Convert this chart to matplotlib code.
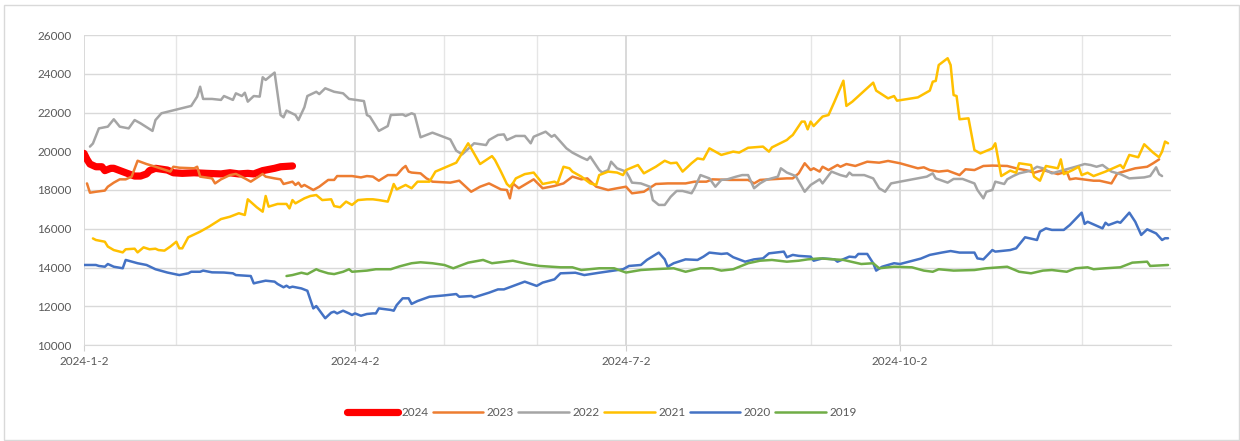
import pandas as pd
import matplotlib
matplotlib.use("Agg")
import matplotlib.pyplot as plt
from matplotlib.patches import Rectangle

# data, one list of dates (2024 calendar) and one of values per year
d2024 = ['01-02', '01-03', '01-04', '01-06', '01-08', '01-09', '01-11', '01-12', '01-16', '01-19',
         '01-21', '01-23', '01-24', '01-26', '01-30', '02-01', '02-04', '02-08', '02-12', '02-17',
         '02-20', '02-23', '02-26', '02-28', '03-02', '03-06', '03-08', '03-12']
v2024 = [19890, 19580, 19340, 19200, 19200, 19000, 19120, 19120, 18890, 18720,
         18720, 18830, 19000, 19120, 19030, 18890, 18860, 18890, 18860, 18830,
         18890, 18830, 18860, 18830, 19000, 19120, 19200, 19240]

d2023 = ['01-03', '01-04', '01-06', '01-09', '01-10', '01-12', '01-14', '01-16', '01-18', '01-20',
         '01-23', '01-26', '01-31', '02-01', '02-03', '02-08', '02-09', '02-10', '02-14', '02-15',
         '02-17', '02-20', '02-22', '02-25', '02-27', '03-02', '03-03', '03-06', '03-08', '03-09',
         '03-12', '03-13', '03-14', '03-15', '03-16', '03-19', '03-21', '03-24', '03-26', '03-27',
         '04-01', '04-04', '04-06', '04-08', '04-10', '04-13', '04-16', '04-18', '04-19', '04-20',
         '04-21', '04-24', '04-26', '04-27', '04-28', '05-04', '05-07', '05-11', '05-14', '05-17',
         '05-21', '05-23', '05-24', '05-25', '05-27', '06-01', '06-04', '06-08', '06-11', '06-14',
         '06-17', '06-19', '06-22', '06-26', '06-29', '07-02', '07-04', '07-08', '07-12', '07-16',
         '07-22', '07-25', '07-29', '07-31', '08-06', '08-12', '08-14', '08-16', '08-25', '08-27',
         '08-29', '08-31', '09-02', '09-03', '09-05', '09-06', '09-08', '09-11', '09-12', '09-14',
         '09-17', '09-21', '09-25', '09-28', '10-02', '10-08', '10-10', '10-12', '10-15', '10-18',
         '10-22', '10-24', '10-27', '10-30', '11-02', '11-07', '11-10', '11-14', '11-16', '11-19',
         '11-24', '11-27', '11-28', '11-30', '12-04', '12-06', '12-08', '12-12', '12-14', '12-18',
         '12-20', '12-24', '12-26', '12-28']
v2023 = [18340, 17860, 17910, 17970, 18170, 18380, 18550, 18550, 18690, 19510,
         19340, 19200, 18950, 19200, 19150, 19120, 19200, 18690, 18600, 18340,
         18550, 18770, 18830, 18600, 18430, 18830, 18690, 18600, 18550, 18310,
         18430, 18260, 18380, 18170, 18260, 18000, 18170, 18520, 18520, 18720,
         18720, 18650, 18720, 18690, 18480, 18770, 18770, 19120, 19240, 18950,
         18900, 18860, 18600, 18520, 18430, 18380, 18480, 17910, 18170, 18340,
         18030, 18000, 17570, 18340, 18090, 18550, 18090, 18210, 18340, 18690,
         18550, 18600, 18170, 18000, 18090, 18170, 17830, 17910, 18310, 18340,
         18340, 18430, 18430, 18550, 18520, 18520, 18340, 18520, 18600, 18600,
         18860, 19380, 19030, 19120, 18950, 19200, 19030, 19290, 19200, 19340,
         19240, 19460, 19410, 19500, 19380, 19120, 19170, 19030, 18950, 19000,
         18770, 19070, 19030, 19240, 19260, 19240, 19120, 19000, 18890, 19030,
         18820, 18950, 18550, 18600, 18520, 18480, 18480, 18340, 18860, 19030,
         19120, 19200, 19380, 19580]

d2022 = ['01-04', '01-05', '01-07', '01-10', '01-12', '01-14', '01-17', '01-19', '01-21', '01-25',
         '01-26', '01-28', '02-07', '02-09', '02-10', '02-11', '02-14', '02-17', '02-18', '02-21',
         '02-22', '02-24', '02-25', '02-26', '02-28', '03-01', '03-02', '03-03', '03-06', '03-08',
         '03-09', '03-10', '03-13', '03-14', '03-16', '03-17', '03-20', '03-21', '03-23', '03-26',
         '03-29', '03-31', '04-05', '04-06', '04-07', '04-10', '04-13', '04-14', '04-18', '04-19',
         '04-21', '04-22', '04-24', '04-28', '05-04', '05-06', '05-08', '05-12', '05-16', '05-17',
         '05-20', '05-22', '05-23', '05-26', '05-29', '05-31', '06-01', '06-05', '06-07', '06-08',
         '06-12', '06-14', '06-17', '06-19', '06-20', '06-23', '06-24', '06-26', '06-27', '06-29',
         '07-02', '07-03', '07-04', '07-07', '07-10', '07-11', '07-13', '07-15', '07-17', '07-19',
         '07-21', '07-24', '07-25', '07-27', '07-30', '08-01', '08-03', '08-05', '08-08', '08-10',
         '08-12', '08-14', '08-16', '08-18', '08-22', '08-23', '08-25', '08-28', '08-31', '09-02',
         '09-05', '09-06', '09-09', '09-12', '09-14', '09-15', '09-16', '09-20', '09-23', '09-25',
         '09-27', '09-29', '10-02', '10-11', '10-13', '10-14', '10-18', '10-20', '10-23', '10-27',
         '10-28', '10-30', '10-31', '11-02', '11-03', '11-06', '11-07', '11-09', '11-11', '11-15',
         '11-17', '11-19', '11-22', '11-26', '11-30', '12-03', '12-05', '12-07', '12-09', '12-12',
         '12-15', '12-18', '12-23', '12-25', '12-27', '12-28', '12-29']
v2022 = [20240, 20400, 21180, 21270, 21650, 21270, 21180, 21610, 21440, 21050,
         21610, 21960, 22340, 22820, 23330, 22700, 22700, 22650, 22850, 22650,
         22990, 22850, 23020, 22560, 22850, 22820, 23820, 23680, 24060, 21870,
         21750, 22100, 21870, 21610, 22270, 22850, 23070, 22950, 23250, 23070,
         22990, 22700, 22590, 21870, 21790, 21050, 21300, 21870, 21900, 21820,
         21960, 21900, 20720, 20960, 20610, 20030, 19840, 20410, 20320, 20580,
         20840, 20870, 20580, 20790, 20790, 20410, 20750, 21010, 20750, 20840,
         20150, 19930, 19690, 19550, 19720, 19030, 18900, 19030, 19460, 19120,
         18950, 18690, 18380, 18340, 18170, 17480, 17230, 17230, 17650, 17950,
         17950, 17830, 18090, 18770, 18600, 18170, 18520, 18550, 18690, 18770,
         18770, 18090, 18340, 18520, 18690, 19120, 18900, 18720, 17910, 18260,
         18550, 18340, 18950, 18770, 18690, 18900, 18770, 18770, 18600, 18090,
         17910, 18340, 18430, 18690, 18860, 18600, 18380, 18570, 18570, 18340,
         18000, 17570, 17910, 18000, 18430, 18310, 18550, 18720, 18860, 19000,
         19200, 19120, 18860, 19030, 19200, 19340, 19290, 19200, 19290, 18950,
         18820, 18600, 18650, 18720, 19170, 18820, 18720]

d2021 = ['01-05', '01-06', '01-09', '01-10', '01-12', '01-15', '01-16', '01-19', '01-20', '01-22',
         '01-24', '01-26', '01-27', '01-29', '01-31', '02-02', '02-03', '02-04', '02-06', '02-10',
         '02-13', '02-17', '02-20', '02-23', '02-25', '02-26', '02-29', '03-02', '03-03', '03-04',
         '03-07', '03-10', '03-11', '03-12', '03-13', '03-16', '03-18', '03-20', '03-22', '03-25',
         '03-26', '03-28', '03-30', '04-01', '04-03', '04-06', '04-08', '04-10', '04-13', '04-14',
         '04-15', '04-16', '04-19', '04-21', '04-23', '04-27', '04-29', '05-06', '05-10', '05-11',
         '05-14', '05-18', '05-19', '05-21', '05-23', '05-24', '05-25', '05-26', '05-29', '06-01',
         '06-03', '06-04', '06-08', '06-09', '06-11', '06-13', '06-14', '06-17', '06-20', '06-22',
         '06-23', '06-26', '06-29', '07-01', '07-02', '07-06', '07-08', '07-12', '07-15', '07-17',
         '07-19', '07-21', '07-24', '07-26', '07-28', '07-30', '08-03', '08-07', '08-09', '08-12',
         '08-17', '08-19', '08-20', '08-25', '08-26', '08-27', '08-30', '08-31', '09-01', '09-02',
         '09-03', '09-06', '09-08', '09-10', '09-13', '09-14', '09-16', '09-23', '09-24', '09-28',
         '09-30', '10-01', '10-08', '10-12', '10-13', '10-14', '10-15', '10-18', '10-19', '10-20',
         '10-21', '10-22', '10-25', '10-27', '10-29', '11-02', '11-03', '11-05', '11-08', '11-10',
         '11-11', '11-15', '11-16', '11-18', '11-20', '11-24', '11-25', '11-26', '11-29', '12-01',
         '12-02', '12-04', '12-06', '12-10', '12-15', '12-16', '12-18', '12-21', '12-23', '12-26',
         '12-28', '12-29', '12-30', '12-31']
v2021 = [15500, 15420, 15330, 15080, 14900, 14780, 14940, 14970, 14780, 15040,
         14940, 14970, 14900, 14870, 15080, 15330, 14990, 14990, 15560, 15850,
         16110, 16500, 16620, 16800, 16710, 17520, 17110, 16880, 17690, 17140,
         17280, 17280, 17050, 17480, 17310, 17570, 17690, 17740, 17480, 17520,
         17170, 17110, 17400, 17230, 17480, 17520, 17520, 17480, 17400, 17830,
         18310, 18030, 18260, 18090, 18430, 18430, 18950, 19410, 20410, 20150,
         19340, 19750, 19550, 18950, 18310, 18170, 18340, 18600, 18820, 18900,
         18520, 18310, 18430, 18340, 19200, 19120, 18950, 18690, 18340, 18260,
         18770, 18950, 18900, 18770, 19030, 19290, 18860, 19200, 19510, 19380,
         19410, 18950, 19380, 19630, 19580, 20150, 19810, 19980, 19930, 20180,
         20240, 19980, 20200, 20580, 20720, 20840, 21530, 21530, 21130, 21530,
         21300, 21790, 21870, 22560, 23640, 22340, 22560, 23540, 23130, 22730,
         22850, 22610, 22780, 23130, 23590, 23630, 24450, 24800, 24450, 22900,
         22850, 21650, 21700, 20060, 19890, 20150, 20410, 18720, 19000, 18890,
         19380, 19290, 18690, 18480, 19240, 19120, 19580, 18820, 19030, 19200,
         18770, 18890, 18720, 18950, 19290, 19120, 19810, 19690, 20360, 19930,
         19690, 19980, 20500, 20410]

d2020 = ['01-02', '01-06', '01-07', '01-09', '01-10', '01-12', '01-15', '01-16', '01-20', '01-23',
         '01-26', '01-30', '02-03', '02-06', '02-07', '02-10', '02-11', '02-14', '02-18', '02-21',
         '02-22', '02-27', '02-28', '02-29', '03-03', '03-06', '03-07', '03-09', '03-10', '03-11',
         '03-12', '03-15', '03-17', '03-18', '03-19', '03-20', '03-23', '03-25', '03-26', '03-27',
         '03-29', '03-31', '04-01', '04-02', '04-04', '04-06', '04-08', '04-09', '04-10', '04-14',
         '04-15', '04-16', '04-18', '04-20', '04-21', '04-23', '04-27', '05-02', '05-06', '05-07',
         '05-11', '05-12', '05-17', '05-20', '05-22', '05-26', '05-29', '06-02', '06-04', '06-08',
         '06-10', '06-15', '06-18', '06-23', '06-28', '07-01', '07-03', '07-07', '07-09', '07-13',
         '07-15', '07-16', '07-18', '07-22', '07-26', '07-28', '07-30', '08-03', '08-05', '08-07',
         '08-11', '08-14', '08-17', '08-19', '08-24', '08-25', '08-27', '08-29', '09-02', '09-03',
         '09-06', '09-10', '09-11', '09-15', '09-17', '09-18', '09-21', '09-23', '09-24', '09-26',
         '09-30', '10-02', '10-09', '10-12', '10-16', '10-19', '10-22', '10-27', '10-28', '10-30',
         '11-02', '11-03', '11-08', '11-10', '11-13', '11-17', '11-18', '11-20', '11-22', '11-26',
         '11-28', '12-02', '12-03', '12-04', '12-09', '12-10', '12-11', '12-14', '12-15', '12-18',
         '12-20', '12-22', '12-24', '12-27', '12-29', '12-30', '12-31']
v2020 = [14130, 14130, 14080, 14040, 14180, 14040, 13960, 14390, 14220, 14130,
         13910, 13740, 13610, 13700, 13780, 13780, 13840, 13750, 13740, 13700,
         13610, 13560, 13180, 13220, 13320, 13270, 13150, 12980, 13060, 12960,
         13010, 12920, 12800, 12350, 11890, 12010, 11380, 11670, 11720, 11630,
         11770, 11630, 11550, 11630, 11510, 11600, 11630, 11630, 11890, 11810,
         11770, 12060, 12410, 12410, 12120, 12270, 12490, 12560, 12630, 12490,
         12530, 12460, 12700, 12870, 12870, 13100, 13270, 13050, 13220, 13390,
         13700, 13730, 13610, 13730, 13840, 13910, 14080, 14130, 14390, 14770,
         14420, 14040, 14220, 14420, 14390, 14560, 14770, 14700, 14730, 14530,
         14300, 14420, 14470, 14730, 14820, 14530, 14650, 14600, 14560, 14350,
         14470, 14420, 14300, 14560, 14530, 14700, 14700, 14220, 13840, 14040,
         14220, 14180, 14460, 14650, 14770, 14850, 14770, 14770, 14470, 14420,
         14900, 14820, 14900, 14990, 15560, 15420, 15850, 16020, 15940, 15940,
         16190, 16830, 16250, 16360, 16020, 16310, 16190, 16360, 16310, 16830,
         16360, 15680, 15970, 15760, 15420, 15510, 15510]

d2019 = ['03-10', '03-12', '03-15', '03-17', '03-20', '03-21', '03-24', '03-26', '03-29', '03-31',
         '04-01', '04-06', '04-09', '04-14', '04-17', '04-21', '04-24', '04-28', '05-02', '05-05',
         '05-10', '05-15', '05-18', '05-25', '05-30', '06-03', '06-10', '06-14', '06-17', '06-23',
         '06-28', '07-02', '07-07', '07-11', '07-18', '07-22', '07-27', '07-31', '08-03', '08-07',
         '08-12', '08-16', '08-20', '08-25', '08-29', '09-01', '09-05', '09-10', '09-13', '09-19',
         '09-23', '09-25', '09-30', '10-06', '10-10', '10-13', '10-15', '10-20', '10-27', '10-31',
         '11-07', '11-11', '11-15', '11-19', '11-22', '11-27', '11-30', '12-04', '12-06', '12-10',
         '12-15', '12-19', '12-24', '12-25', '12-31']
v2019 = [13560, 13610, 13730, 13660, 13910, 13840, 13700, 13660, 13780, 13910,
         13780, 13840, 13910, 13910, 14060, 14220, 14270, 14220, 14130, 13960,
         14250, 14390, 14220, 14350, 14180, 14080, 14010, 14010, 13870, 13960,
         13960, 13740, 13870, 13910, 13960, 13780, 13960, 13960, 13840, 13910,
         14220, 14350, 14390, 14300, 14350, 14420, 14470, 14420, 14390, 14180,
         14220, 13960, 14040, 14010, 13840, 13780, 13910, 13840, 13870, 13960,
         14040, 13780, 13700, 13840, 13870, 13780, 13960, 14010, 13910, 13960,
         14010, 14250, 14300, 14080, 14130]

series = [('2024', d2024, v2024, '#FF0000', 5.2),
          ('2023', d2023, v2023, '#ED7D31', 1.8),
          ('2022', d2022, v2022, '#A5A5A5', 1.8),
          ('2021', d2021, v2021, '#FFC000', 1.8),
          ('2020', d2020, v2020, '#4472C4', 1.8),
          ('2019', d2019, v2019, '#70AD47', 1.8)]

tick_dates = ['01-02', '04-02', '07-02', '10-02']
tick_labels = ['2024-1-2', '2024-4-2', '2024-7-2', '2024-10-2']
minor_dates = ['02-02', '05-02', '06-02', '09-02', '11-02', '12-02']


def to_dt(days):
    return pd.to_datetime(['2024-' + d for d in days])


plt.rcParams['font.family'] = ['Lato', 'DejaVu Sans']
fig = plt.figure(figsize=(12.4, 4.41), dpi=100)
fig.patches.append(Rectangle((4 / 1240, 1 / 441), 1235 / 1240, 435 / 441, transform=fig.transFigure,
                             fill=False, edgecolor='#d9d9d9', linewidth=1))
ax = fig.add_axes([84 / 1240, 1 - 345 / 441, 1087 / 1240, 310 / 441])

for name, d, v, c, lw in series:
    ax.plot(to_dt(d), v, color=c, linewidth=lw, label=name, solid_capstyle='round',
            solid_joinstyle='round')

ax.set_ylim(10000, 26000)
ax.set_yticks(range(10000, 26001, 2000))
ax.set_xlim(pd.Timestamp('2024-01-02'), pd.Timestamp('2025-01-01'))
ax.set_xticks(to_dt(tick_dates))
ax.set_xticklabels(tick_labels)
ax.set_xticks(to_dt(minor_dates), minor=True)

ax.grid(axis='y', color='#d9d9d9', linewidth=1)
ax.grid(axis='x', which='major', color='#d0d0d0', linewidth=1.1)
ax.grid(axis='x', which='minor', color='#e6e6e6', linewidth=1)
ax.set_axisbelow(True)
for s in ['top', 'right', 'left']:
    ax.spines[s].set_visible(False)
ax.spines['bottom'].set_color('#d9d9d9')
ax.tick_params(axis='y', length=0, pad=9, labelsize=8.5, labelcolor='#595959')
ax.tick_params(axis='x', which='major', length=4, color='#d0d0d0', pad=4, labelsize=8.5,
               labelcolor='#595959')
ax.tick_params(axis='x', which='minor', length=0)

fig.legend(loc='center', bbox_to_anchor=(602 / 1240, 1 - 413 / 441), ncol=6, frameon=False,
           fontsize=8.5, labelcolor='#595959', handlelength=4.3, handletextpad=0.3,
           columnspacing=0.35)

fig.savefig('out.png', dpi=100)
